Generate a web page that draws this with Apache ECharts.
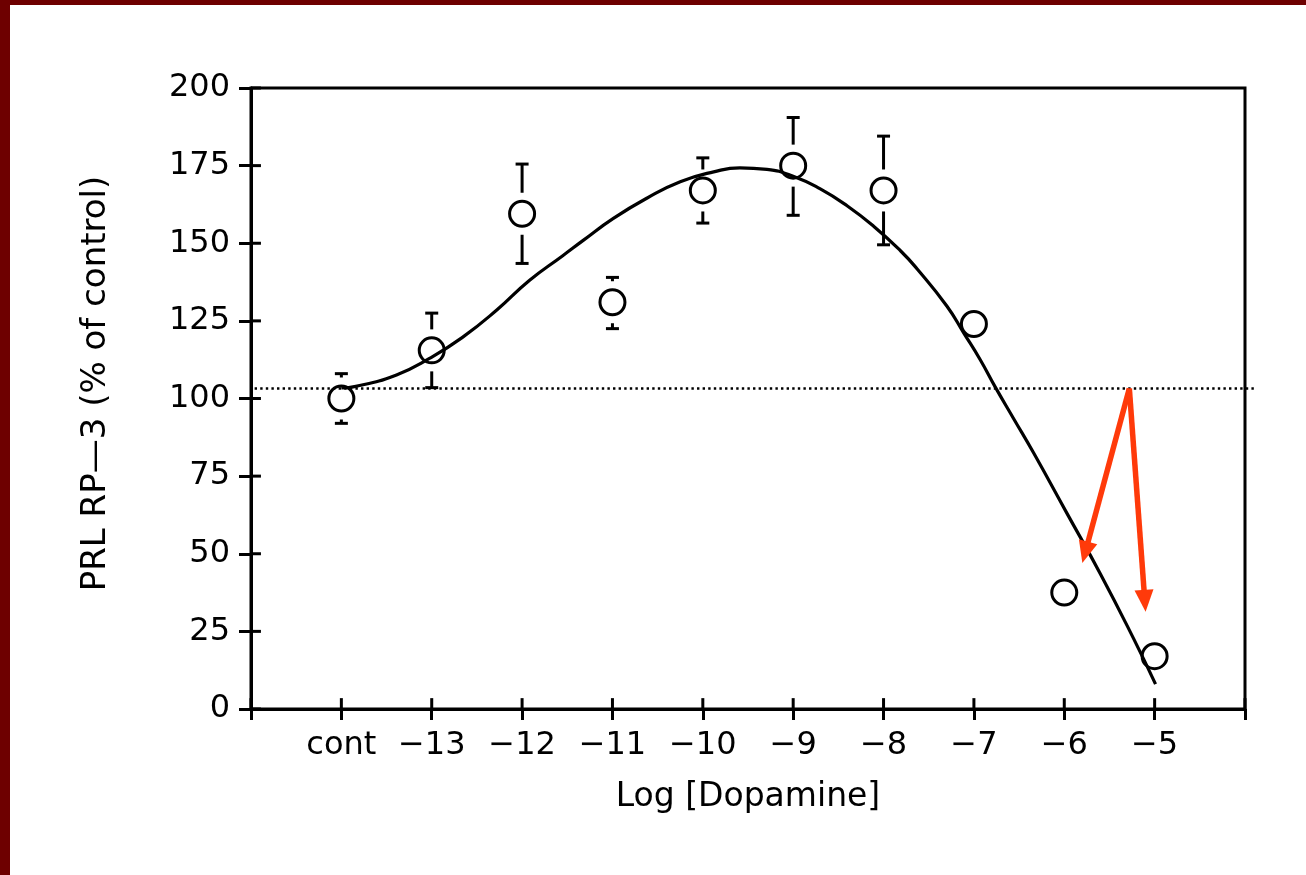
<!DOCTYPE html>
<html>
<head>
<meta charset="utf-8">
<title>PRL RP-3 vs Log [Dopamine]</title>
<script src="https://cdn.jsdelivr.net/npm/echarts@6/dist/echarts.min.js"></script>
<style>
  html, body { margin: 0; padding: 0; background: #ffffff; }
  #chart { position: absolute; left: 0; top: 0; width: 1306px; height: 875px; }
  .edge { position: absolute; background: #6e0000; }
  #edgeLeft { left: 0; top: 0; width: 10px; height: 875px; }
  #edgeTop { left: 0; top: 0; width: 1306px; height: 5px; }
</style>
</head>
<body>
<div id="chart"></div>
<div class="edge" id="edgeLeft"></div>
<div class="edge" id="edgeTop"></div>
<script>
// Axis ranges and tick stops
const xRange = [-15, -4];
const yRange = [0, 200];
const xTickStops = [-15, -14, -13, -12, -11, -10, -9, -8, -7, -6, -5, -4];
const yTickStops = [0, 25, 50, 75, 100, 125, 150, 175, 200];

// Tick positions on the log-dose axis and the text printed under them
const tickValues = [-14, -13, -12, -11, -10, -9, -8, -7, -6, -5];
const tickLabels = ['cont', '\u221213', '\u221212', '\u221211', '\u221210', '\u22129', '\u22128', '\u22127', '\u22126', '\u22125'];

// Measured means (% of control) with the ends of their error bars
const doseX = [-14, -13, -12, -11, -10, -9, -8, -7, -6, -5];
const meanY = [100, 115.5, 159.5, 131, 167, 175, 167, 124, 37.5, 17];
const errHigh = [108, 127.5, 175.5, 139, 177.5, 190.5, 184.5, null, null, null];
const errLow = [92, 103.5, 143.5, 122.5, 156.5, 159, 149.5, null, null, null];

// Fitted dose-response curve
const curveX = [-14.00, -13.84, -13.39, -13.02, -12.66, -12.28, -11.92, -11.55, -11.32, -10.99,
                -10.62, -10.25, -9.88, -9.59, -9.29, -9.00, -8.70, -8.40, -8.11, -7.81,
                -7.63, -7.30, -7.11, -6.93, -6.76, -6.56, -6.34, -5.97, -5.60, -5.23, -4.99];
const curveY = [103.4, 103.9, 107.6, 113.0, 119.7, 128.5, 138.0, 146.0, 151.0, 158.0,
                164.5, 169.8, 173.0, 174.3, 173.8, 171.6, 167.5, 162.0, 155.5, 147.5,
                141.8, 129.8, 121.0, 112.5, 103.5, 93.5, 82.5, 63.0, 43.5, 22.5, 8.0];

// Dotted baseline and the two highlight arrows dropping from it
const baselineY = 103.2;
const baselineSpan = [-14.96, -3.88];
const arrowFrom = [-5.28, 103.2];
const arrowTo = [[-5.80, 47.0], [-5.10, 31.3]];

const INK = '#000000';
const FONT = 'DejaVu Sans';
const AXIS_W = 3;
const labelFor = {};
tickValues.forEach((v, i) => { labelFor[v] = tickLabels[i]; });

const chart = echarts.init(document.getElementById('chart'), null, { renderer: 'canvas' });

const pointData = doseX.map((x, i) => [x, meanY[i]]);
const errData = doseX.map((x, i) => [x, meanY[i], errHigh[i], errLow[i]]).filter(r => r[2] != null);
const curveData = curveX.map((x, i) => [x, curveY[i]]);
const arrowData = arrowTo.map(t => [arrowFrom[0], arrowFrom[1], t[0], t[1]]);

// Inner halves of the axis ticks, each a two-point line series (lengths in axis units)
const xInnerLen = 3.5;   // along y, for ticks on the bottom axis
const yInnerLen = 0.11;  // along x, for ticks on the left axis
function tickSeries(p0, p1) {
  return {
    type: 'line',
    data: [p0, p1],
    showSymbol: false,
    silent: true,
    clip: false,
    lineStyle: { color: INK, width: AXIS_W, cap: 'butt' },
    z: 7
  };
}
const innerTickSeries = xTickStops.map(v => tickSeries([v, yRange[0]], [v, yRange[0] + xInnerLen]))
  .concat(yTickStops.map(v => tickSeries([xRange[0], v], [xRange[0] + yInnerLen, v])));

chart.setOption({
  backgroundColor: 'transparent',
  animation: false,
  grid: {
    left: 251, right: 61, top: 88, bottom: 166,
    show: true, borderColor: INK, borderWidth: AXIS_W, backgroundColor: 'transparent'
  },
  xAxis: {
    type: 'value',
    min: xRange[0], max: xRange[1], interval: 1,
    splitLine: { show: false },
    axisLine: { show: true, lineStyle: { color: INK, width: AXIS_W } },
    axisTick: { show: true, length: 11, lineStyle: { color: INK, width: AXIS_W } },
    axisLabel: {
      show: true, margin: 21, color: INK, fontFamily: FONT, fontSize: 32,
      formatter: v => (labelFor[v] !== undefined ? labelFor[v] : '')
    },
    name: 'Log [Dopamine]',
    nameLocation: 'middle', nameGap: 72,
    nameTextStyle: { color: INK, fontFamily: FONT, fontSize: 33 }
  },
  yAxis: {
    type: 'value',
    min: yRange[0], max: yRange[1], interval: 25,
    splitLine: { show: false },
    axisLine: { show: true, lineStyle: { color: INK, width: AXIS_W } },
    axisTick: { show: true, length: 12, lineStyle: { color: INK, width: AXIS_W } },
    axisLabel: { show: true, margin: 21, color: INK, fontFamily: FONT, fontSize: 32 },
    name: 'PRL RP\u20143 (% of control)',
    nameLocation: 'middle', nameGap: 138, nameRotate: 90,
    nameTextStyle: { color: INK, fontFamily: FONT, fontSize: 34, padding: [0, 0, 0, 30] }
  },
  series: [
    {
      name: 'fit',
      type: 'line',
      data: curveData,
      smooth: 0.5,
      showSymbol: false,
      lineStyle: { color: INK, width: 3.2 },
      z: 2
    },
    {
      name: 'baseline',
      type: 'custom',
      clip: false,
      silent: true,
      data: [[baselineSpan[0], baselineSpan[1], baselineY]],
      renderItem: (params, api) => {
        const a = api.coord([api.value(0), api.value(2)]);
        const b = api.coord([api.value(1), api.value(2)]);
        return {
          type: 'line',
          shape: { x1: a[0], y1: a[1], x2: b[0], y2: b[1] },
          style: { stroke: INK, lineWidth: 2.6, lineDash: [2.4, 3.2] }
        };
      },
      z: 2
    },
    {
      name: 'error bars',
      type: 'custom',
      data: errData,
      renderItem: (params, api) => {
        const x = api.value(0);
        const c = api.coord([x, api.value(1)]);
        const hi = api.coord([x, api.value(2)]);
        const lo = api.coord([x, api.value(3)]);
        const gap = 21, half = 6.5;
        const st = { stroke: INK, lineWidth: 3 };
        const kids = [];
        kids.push({ type: 'line', shape: { x1: c[0] - half, y1: hi[1], x2: c[0] + half, y2: hi[1] }, style: st });
        if (c[1] - gap > hi[1]) {
          kids.push({ type: 'line', shape: { x1: c[0], y1: hi[1], x2: c[0], y2: c[1] - gap }, style: st });
        }
        kids.push({ type: 'line', shape: { x1: c[0] - half, y1: lo[1], x2: c[0] + half, y2: lo[1] }, style: st });
        if (c[1] + gap < lo[1]) {
          kids.push({ type: 'line', shape: { x1: c[0], y1: c[1] + gap, x2: c[0], y2: lo[1] }, style: st });
        }
        return { type: 'group', children: kids };
      },
      z: 3
    },
    {
      name: 'means',
      type: 'scatter',
      data: pointData,
      symbol: 'circle',
      symbolSize: 25,
      itemStyle: { color: 'rgba(255,255,255,0)', borderColor: INK, borderWidth: 3, opacity: 1 },
      emphasis: { disabled: true },
      z: 4
    },
    {
      name: 'arrows',
      type: 'custom',
      clip: false,
      silent: true,
      data: arrowData,
      renderItem: (params, api) => {
        const p0 = api.coord([api.value(0), api.value(1)]);
        const p1 = api.coord([api.value(2), api.value(3)]);
        const dx = p1[0] - p0[0], dy = p1[1] - p0[1];
        const len = Math.sqrt(dx * dx + dy * dy);
        const ux = dx / len, uy = dy / len;
        const headLen = 22, headHalf = 9.5;
        const bx = p1[0] - ux * headLen, by = p1[1] - uy * headLen;
        const red = '#ff3a0a';
        return {
          type: 'group',
          children: [
            {
              type: 'line',
              shape: { x1: p0[0], y1: p0[1], x2: bx + ux * 2, y2: by + uy * 2 },
              style: { stroke: red, lineWidth: 5.5, lineCap: 'butt' }
            },
            {
              type: 'polygon',
              shape: { points: [[p1[0], p1[1]], [bx - uy * headHalf, by + ux * headHalf], [bx + uy * headHalf, by - ux * headHalf]] },
              style: { fill: red }
            }
          ]
        };
      },
      z: 6
    }
  ].concat(innerTickSeries)
});
</script>
</body>
</html>
